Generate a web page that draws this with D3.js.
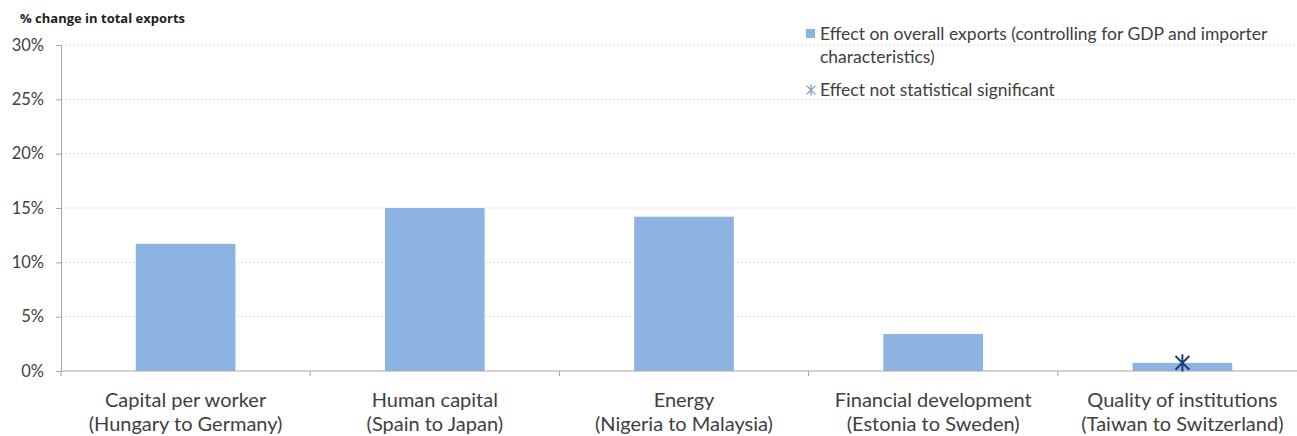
<!DOCTYPE html>
<html>
<head>
<meta charset="utf-8">
<script src="https://cdn.jsdelivr.net/npm/d3@7"></script>
<style>
    body { margin: 0; background: #fff; }
    svg { display: block; font-family: Lato, "Open Sans", sans-serif; }
</style>
</head>
<body>
<svg id="chart" width="1297" height="436"></svg>
<script>
// chart data
const categories = ["Capital per worker", "Human capital", "Energy", "Financial development", "Quality of institutions"];
const subLabels = ["(Hungary to Germany)", "(Spain to Japan)", "(Nigeria to Malaysia)", "(Estonia to Sweden)", "(Taiwan to Switzerland)"];
const values = [11.7, 15.0, 14.2, 3.4, 0.75];
const notSignificant = [false, false, false, false, true];
const yTicks = [0, 5, 10, 15, 20, 25, 30];

document.addEventListener("DOMContentLoaded", function () {
    const svg = d3.select("#chart");
    const left = 61, right = 1307, top = 45, bottom = 371;
    const barColor = "#8db3e2";
    const textColor = "#404040";

    const x = d3.scaleBand().domain(categories).range([left, right]).paddingInner(0.6).paddingOuter(0.3);
    const y = d3.scaleLinear().domain([0, 30]).range([bottom, top]);

    // asterisk like the Excel marker: vertical bar plus an X
    const asterisk = {
        draw(context, size) {
            const r = Math.sqrt(size) / 2;
            const d = r * 0.8;
            context.moveTo(0, -r);
            context.lineTo(0, r);
            context.moveTo(-d, -d);
            context.lineTo(d, d);
            context.moveTo(-d, d);
            context.lineTo(d, -d);
        }
    };

    // gridlines
    svg.append("g")
        .selectAll("line")
        .data(yTicks.filter((d) => d > 0))
        .enter()
        .append("line")
        .attr("x1", left)
        .attr("x2", right)
        .attr("y1", (d) => y(d))
        .attr("y2", (d) => y(d))
        .attr("stroke", "#d9d9d9")
        .attr("stroke-dasharray", "2,2");

    // bars
    svg.append("g")
        .selectAll("rect")
        .data(values)
        .enter()
        .append("rect")
        .attr("x", (d, i) => x(categories[i]))
        .attr("width", x.bandwidth())
        .attr("y", (d) => y(d))
        .attr("height", (d) => y(0) - y(d))
        .attr("fill", barColor);

    // y axis
    const yAxis = svg.append("g")
        .attr("transform", `translate(${left},0)`)
        .call(d3.axisLeft(y).tickValues(yTicks).tickFormat((d) => d + "%").tickSize(5).tickPadding(12));
    yAxis.select(".domain").attr("stroke", "#a6a6a6");
    yAxis.selectAll(".tick line").attr("stroke", "#a6a6a6");
    yAxis.selectAll(".tick text")
        .attr("fill", textColor)
        .style("font-size", "16.5px")
        .style("font-family", "Lato, sans-serif");

    // x axis line and category ticks
    svg.append("line")
        .attr("x1", left).attr("x2", right)
        .attr("y1", y(0)).attr("y2", y(0))
        .attr("stroke", "#a6a6a6");
    svg.append("g")
        .selectAll("line")
        .data(d3.range(categories.length + 1))
        .enter()
        .append("line")
        .attr("x1", (i) => left + i * x.step())
        .attr("x2", (i) => left + i * x.step())
        .attr("y1", y(0))
        .attr("y2", y(0) + 5)
        .attr("stroke", "#a6a6a6");

    // category labels
    const labels = svg.append("g")
        .selectAll("text")
        .data(categories)
        .enter()
        .append("text")
        .attr("x", (d) => x(d) + x.bandwidth() / 2)
        .attr("y", 407)
        .attr("text-anchor", "middle")
        .attr("fill", textColor)
        .style("font-size", "20px");
    labels.append("tspan").text((d) => d);
    labels.append("tspan")
        .attr("x", (d) => x(d) + x.bandwidth() / 2)
        .attr("dy", 24)
        .text((d, i) => subLabels[i]);

    // not significant markers
    svg.append("g")
        .selectAll("path")
        .data(values.map((v, i) => ({ v, i })).filter((d) => notSignificant[d.i]))
        .enter()
        .append("path")
        .attr("d", d3.symbol().type(asterisk).size(300))
        .attr("transform", (d) => `translate(${x(categories[d.i]) + x.bandwidth() / 2},${y(d.v)})`)
        .attr("fill", "none")
        .attr("stroke", "#1f3d7a")
        .attr("stroke-width", 2);

    // axis title
    svg.append("text")
        .attr("x", 20)
        .attr("y", 23)
        .attr("fill", "#222")
        .style("font-family", "'Open Sans', sans-serif")
        .style("font-size", "13px")
        .style("font-weight", "bold")
        .text("% change in total exports");

    // legend
    const legend = svg.append("g").attr("transform", "translate(806,0)");
    legend.append("rect")
        .attr("x", 0).attr("y", 29).attr("width", 9).attr("height", 9)
        .attr("fill", barColor);
    const lt = legend.append("text")
        .attr("x", 14).attr("y", 40)
        .attr("fill", textColor)
        .style("font-size", "17.5px");
    lt.append("tspan").text("Effect on overall exports (controlling for GDP and importer");
    lt.append("tspan").attr("x", 14).attr("dy", 23).text("characteristics)");
    legend.append("path")
        .attr("d", d3.symbol().type(asterisk).size(120))
        .attr("transform", "translate(5,90)")
        .attr("fill", "none")
        .attr("stroke", "#7f9acb")
        .attr("stroke-width", 1.3);
    legend.append("text")
        .attr("x", 14).attr("y", 96)
        .attr("fill", textColor)
        .style("font-size", "17.5px")
        .text("Effect not statistical significant");
});
</script>
</body>
</html>
